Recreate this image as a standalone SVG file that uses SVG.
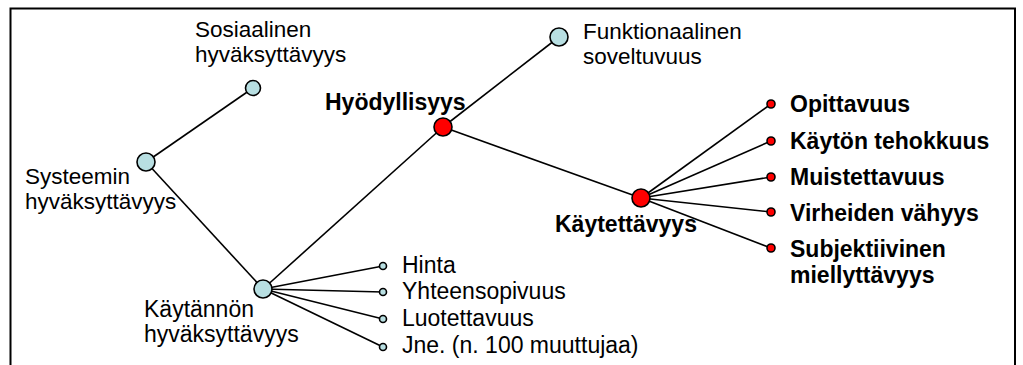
<svg xmlns="http://www.w3.org/2000/svg" width="1023" height="365" viewBox="0 0 1023 365">
  <style>
    text { font-family: "Liberation Sans", Arial, sans-serif; font-size: 23px; fill: #000; }
    .b { font-weight: bold; }
    .two { font-size: 22.5px; }
    .edge { stroke: #000; stroke-width: 1.6; fill: none; }
    .blue { fill: #b8dfe2; stroke: #000; stroke-width: 1.6; }
    .red { fill: #ff0000; stroke: #000; stroke-width: 1.6; }
  </style>
  <rect width="1023" height="365" fill="#fff"/>
  <!-- frame, open at the bottom -->
  <path d="M10.5,366 V8.5 H1015 V366" fill="none" stroke="#000" stroke-width="2"/>

  <g id="connectors">
    <line class="edge" x1="146" y1="162" x2="253" y2="88"/>
    <line class="edge" x1="146" y1="162" x2="263" y2="289"/>
    <line class="edge" x1="263" y1="289" x2="443" y2="127"/>
    <line class="edge" x1="443" y1="127" x2="559" y2="37"/>
    <line class="edge" x1="443" y1="127" x2="641" y2="198"/>
    <line class="edge" x1="641" y1="198" x2="771" y2="104"/>
    <line class="edge" x1="641" y1="198" x2="771" y2="141"/>
    <line class="edge" x1="641" y1="198" x2="771" y2="177"/>
    <line class="edge" x1="641" y1="198" x2="771" y2="212"/>
    <line class="edge" x1="641" y1="198" x2="771" y2="248"/>
    <line class="edge" x1="263" y1="289" x2="383" y2="266"/>
    <line class="edge" x1="263" y1="289" x2="383" y2="292"/>
    <line class="edge" x1="263" y1="289" x2="383" y2="319"/>
    <line class="edge" x1="263" y1="289" x2="383" y2="347"/>
  </g>

  <g id="sosiaalinen">
    <circle class="blue" cx="253" cy="88" r="7.5"/>
    <text class="two" x="195" y="37">Sosiaalinen</text>
    <text class="two" x="195" y="62">hyväksyttävyys</text>
  </g>
  <g id="systeemin">
    <circle class="blue" cx="146" cy="162" r="9"/>
    <text class="two" x="25" y="184">Systeemin</text>
    <text class="two" x="25" y="209">hyväksyttävyys</text>
  </g>
  <g id="kaytannon">
    <circle class="blue" cx="263" cy="289" r="9"/>
    <text x="144" y="317">Käytännön</text>
    <text x="144" y="342">hyväksyttävyys</text>
  </g>
  <g id="funktionaalinen">
    <circle class="blue" cx="559" cy="37" r="9"/>
    <text class="two" x="583" y="39">Funktionaalinen</text>
    <text class="two" x="583" y="64">soveltuvuus</text>
  </g>
  <g id="hyodyllisyys">
    <circle class="red" cx="443" cy="127" r="9"/>
    <text class="b" x="325" y="110">Hyödyllisyys</text>
  </g>
  <g id="kaytettavyys">
    <circle class="red" cx="641" cy="198" r="9"/>
    <text class="b" x="555" y="232">Käytettävyys</text>
  </g>

  <g id="opittavuus">
    <circle class="red" cx="771" cy="104" r="4"/>
    <text class="b" x="790" y="112">Opittavuus</text>
  </g>
  <g id="kayton-tehokkuus">
    <circle class="red" cx="771" cy="141" r="4"/>
    <text class="b" x="790" y="149">Käytön tehokkuus</text>
  </g>
  <g id="muistettavuus">
    <circle class="red" cx="771" cy="177" r="4"/>
    <text class="b" x="790" y="185">Muistettavuus</text>
  </g>
  <g id="virheiden-vahyys">
    <circle class="red" cx="771" cy="212" r="4"/>
    <text class="b" x="790" y="221">Virheiden vähyys</text>
  </g>
  <g id="subjektiivinen">
    <circle class="red" cx="771" cy="248" r="4"/>
    <text class="b" x="790" y="257">Subjektiivinen</text>
    <text class="b" x="790" y="283">miellyttävyys</text>
  </g>

  <g id="hinta">
    <circle class="blue" cx="383" cy="266" r="3.5"/>
    <text x="402" y="273">Hinta</text>
  </g>
  <g id="yhteensopivuus">
    <circle class="blue" cx="383" cy="292" r="3.5"/>
    <text x="402" y="299">Yhteensopivuus</text>
  </g>
  <g id="luotettavuus">
    <circle class="blue" cx="383" cy="319" r="3.5"/>
    <text x="402" y="326">Luotettavuus</text>
  </g>
  <g id="jne">
    <circle class="blue" cx="383" cy="347" r="3.5"/>
    <text x="402" y="353">Jne. (n. 100 muuttujaa)</text>
  </g>
</svg>
